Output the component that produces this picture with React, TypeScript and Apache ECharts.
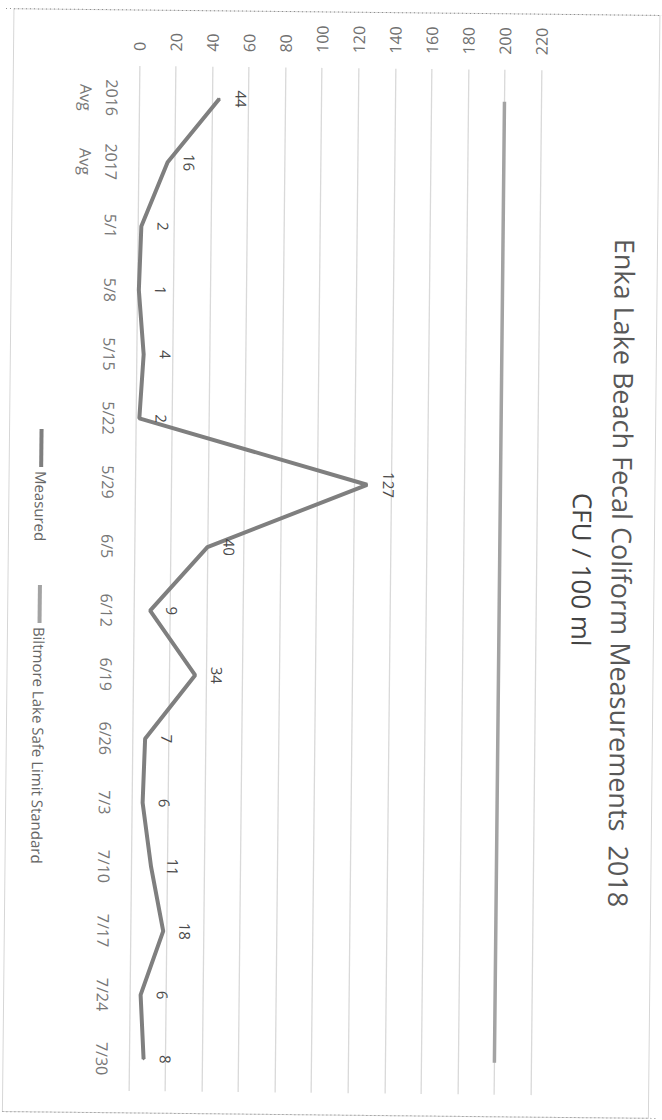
import React, { useEffect, useRef } from "react";
import * as echarts from "echarts";

const categories = [
  "2016\nAvg", "2017\nAvg", "5/1", "5/8", "5/15", "5/22", "5/29", "6/5",
  "6/12", "6/19", "6/26", "7/3", "7/10", "7/17", "7/24", "7/30",
];
const measured = [44, 16, 2, 1, 4, 2, 127, 40, 9, 34, 7, 6, 11, 18, 6, 8];
const standard = [200, 200, 200, 200, 200, 200, 200, 200, 200, 200, 200, 200, 200, 200, 200, 200];
const valueMin = 0;
const valueMax = 220;
const valueStep = 20;
const titleText = "Enka Lake Beach Fecal Coliform Measurements  2018";
const subtitleText = "CFU / 100 ml";
const legendNames = ["Measured", "Biltmore Lake Safe Limit Standard"];

const FONT = "'Open Sans', 'Noto Sans', sans-serif";
const MEASURED_COLOR = "#7f7f7f";
const STANDARD_COLOR = "#a3a3a3";

export default function App() {
  const ref = useRef<HTMLDivElement>(null);

  useEffect(() => {
    document.body.style.margin = "0";
    if (!ref.current) return;
    const chart = echarts.init(ref.current, null, { renderer: "svg" });
    const rot = -Math.PI / 2;
    chart.setOption({
      animation: false,
      backgroundColor: "#ffffff",
      grid: { left: 134, right: 126, top: 68, bottom: 27, containLabel: false },
      xAxis: {
        type: "value",
        position: "top",
        min: valueMin,
        max: valueMax,
        interval: valueStep,
        axisLine: { show: false },
        axisTick: { show: false },
        splitLine: { lineStyle: { color: "#d9d9d9", width: 1.3 } },
        axisLabel: { rotate: -90, fontSize: 16, color: "#707070", margin: 15, fontFamily: FONT },
      },
      yAxis: {
        type: "category",
        inverse: true,
        data: categories,
        boundaryGap: true,
        axisLine: { show: false },
        axisTick: { show: false },
        splitLine: { show: false },
        axisLabel: {
          rotate: -90,
          interval: 0,
          fontSize: 16,
          lineHeight: 26,
          color: "#777777",
          margin: 14,
          fontFamily: FONT,
        },
      },
      series: [
        {
          name: legendNames[1],
          type: "line",
          data: standard,
          symbol: "none",
          lineStyle: { color: STANDARD_COLOR, width: 3.5 },
          z: 2,
        },
        {
          name: legendNames[0],
          type: "line",
          data: measured,
          symbol: "circle",
          symbolSize: 2,
          itemStyle: { color: MEASURED_COLOR },
          lineStyle: { color: MEASURED_COLOR, width: 4 },
          label: {
            show: true,
            position: [23, 1],
            rotate: -90,
            align: "center",
            verticalAlign: "middle",
            fontSize: 15,
            color: "#4a4a4a",
            fontFamily: FONT,
          },
          z: 3,
        },
      ],
      graphic: [
        {
          type: "rect",
          shape: { x: 8, y: 12, width: 646, height: 1103 },
          style: { fill: "none", stroke: "#d6d6d6", lineWidth: 1 },
          silent: true,
        },
        {
          type: "line",
          shape: { x1: 0, y1: 12, x2: 662, y2: 12 },
          style: { stroke: "#8a8a8a", lineWidth: 1, lineDash: [1, 3] },
          silent: true,
        },
        {
          type: "line",
          shape: { x1: 0, y1: 1115, x2: 662, y2: 1115 },
          style: { stroke: "#8a8a8a", lineWidth: 1, lineDash: [1, 3] },
          silent: true,
        },
        {
          type: "text",
          x: 622,
          y: 570,
          rotation: rot,
          style: {
            text: titleText,
            fontSize: 27,
            fontFamily: FONT,
            fill: "#585858",
            align: "center",
            verticalAlign: "middle",
            textAlign: "center",
            textVerticalAlign: "middle",
          },
        },
        {
          type: "text",
          x: 582,
          y: 567,
          rotation: rot,
          style: {
            text: subtitleText,
            fontSize: 26,
            fontFamily: FONT,
            fill: "#444444",
            align: "center",
            verticalAlign: "middle",
            textAlign: "center",
            textVerticalAlign: "middle",
          },
        },
        {
          type: "line",
          shape: { x1: 40, y1: 432, x2: 40, y2: 470 },
          style: { stroke: MEASURED_COLOR, lineWidth: 4 },
        },
        {
          type: "text",
          x: 40,
          y: 474,
          rotation: rot,
          style: {
            text: legendNames[0],
            fontSize: 15,
            fontFamily: FONT,
            fill: "#666666",
            align: "left",
            verticalAlign: "middle",
            textAlign: "left",
            textVerticalAlign: "middle",
          },
        },
        {
          type: "line",
          shape: { x1: 40, y1: 588, x2: 40, y2: 626 },
          style: { stroke: STANDARD_COLOR, lineWidth: 4 },
        },
        {
          type: "text",
          x: 40,
          y: 630,
          rotation: rot,
          style: {
            text: legendNames[1],
            fontSize: 15,
            fontFamily: FONT,
            fill: "#666666",
            align: "left",
            verticalAlign: "middle",
            textAlign: "left",
            textVerticalAlign: "middle",
          },
        },
      ],
    });
    return () => chart.dispose();
  }, []);

  return (
    <div
      ref={ref}
      style={{
        position: "absolute",
        left: 0,
        top: 0,
        width: 662,
        height: 1120,
        transform: "rotate(0.6deg)",
        transformOrigin: "331px 580px",
      }}
    />
  );
}
